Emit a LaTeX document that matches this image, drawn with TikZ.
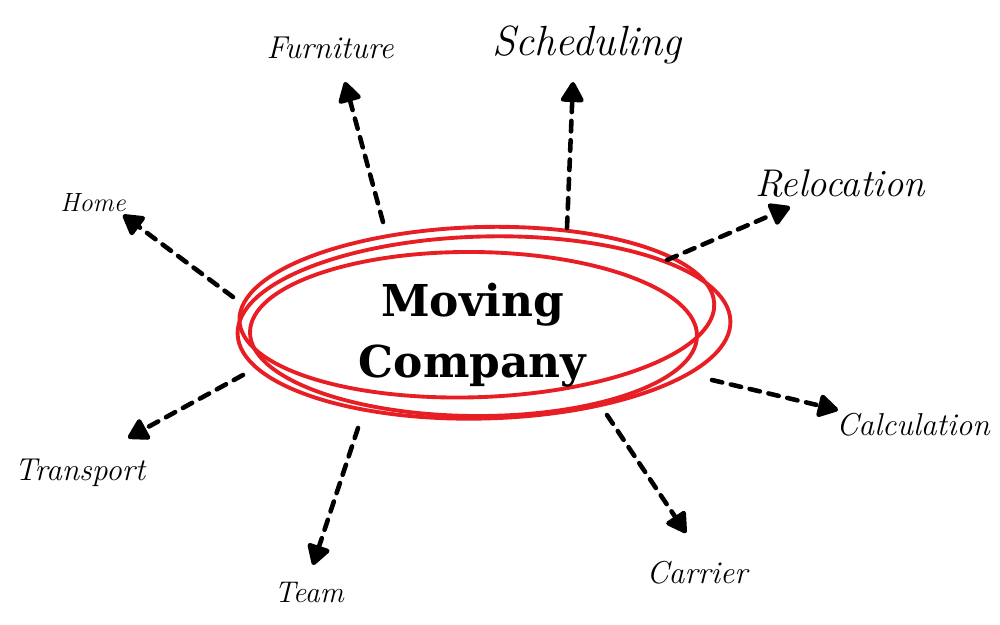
\documentclass[tikz,border=0pt]{standalone}
\usepackage{fontspec}
\usepackage{tikz}
\usetikzlibrary{arrows.meta}
\newfontfamily\slabfont{DejaVu Serif}
\definecolor{penred}{RGB}{232,30,37}
\tikzset{
	dasharrow/.style={line width=2.6pt, line cap=round, dash pattern=on 6pt off 5pt,
		-{Triangle[length=4.5mm,width=5mm,round]}},
	redring/.style={penred, line width=2.2pt},
	lbl/.style={font=\itshape}
}

\begin{document}
\begin{tikzpicture}
		\useasboundingbox (0,0) rectangle (20,12.5);
		% ring round the title
		\draw[redring] (9.68,5.95) ellipse [x radius=4.93, y radius=1.82, rotate=1.5];
		\draw[redring] (9.47,5.82) ellipse [x radius=4.47, y radius=1.64, rotate=-0.5];
		\draw[redring] (9.75,5.92) [rotate=2] ++(75:4.75 and 1.7) arc[start angle=75, end angle=455, x radius=4.75, y radius=1.7];
		\node[font=\slabfont\bfseries\fontsize{25}{35}\selectfont, align=center] (mc) at (9.45,5.8) {Moving\\Company};
		% labels
		\node[lbl, font=\itshape\fontsize{15}{17}\selectfont] (home) at (1.86,8.45) {Home};
		\node[lbl, font=\itshape\fontsize{18}{20}\selectfont] (furniture) at (6.6,11.55) {Furniture};
		\node[lbl, font=\itshape\fontsize{24}{26}\selectfont] (scheduling) at (11.74,11.6) {Scheduling};
		\node[lbl, font=\itshape\fontsize{22}{24}\selectfont] (relocation) at (16.8,8.84) {Relocation};
		\node[lbl, font=\itshape\fontsize{18}{20}\selectfont] (calculation) at (18.26,4.0) {Calculation};
		\node[lbl, font=\itshape\fontsize{18}{20}\selectfont] (carrier) at (13.94,1.04) {Carrier};
		\node[lbl, font=\itshape\fontsize{17}{19}\selectfont] (team) at (6.18,0.65) {Team};
		\node[lbl, font=\itshape\fontsize{18}{20}\selectfont] (transport) at (1.6,3.05) {Transport};
		% arrow ends
		\coordinate (s-home) at (4.66,6.56);
		\coordinate (t-home) at (2.46,8.2);
		\coordinate (s-furniture) at (7.66,8.06);
		\coordinate (t-furniture) at (6.9,10.86);
		\coordinate (s-scheduling) at (11.34,7.94);
		\coordinate (t-scheduling) at (11.46,10.86);
		\coordinate (s-relocation) at (13.34,7.3);
		\coordinate (t-relocation) at (15.8,8.36);
		\coordinate (s-calculation) at (14.24,4.9);
		\coordinate (t-calculation) at (16.76,4.3);
		\coordinate (s-carrier) at (12.14,4.2);
		\coordinate (t-carrier) at (13.72,1.84);
		\coordinate (s-team) at (7.16,3.94);
		\coordinate (t-team) at (6.26,1.2);
		\coordinate (s-transport) at (4.86,5.0);
		\coordinate (t-transport) at (2.56,3.74);
		\draw[dasharrow] (s-home) -- (t-home);
		\draw[dasharrow] (s-furniture) -- (t-furniture);
		\draw[dasharrow] (s-scheduling) -- (t-scheduling);
		\draw[dasharrow] (s-relocation) -- (t-relocation);
		\draw[dasharrow] (s-calculation) -- (t-calculation);
		\draw[dasharrow] (s-carrier) -- (t-carrier);
		\draw[dasharrow] (s-team) -- (t-team);
		\draw[dasharrow] (s-transport) -- (t-transport);
	\end{tikzpicture}
\end{document}
